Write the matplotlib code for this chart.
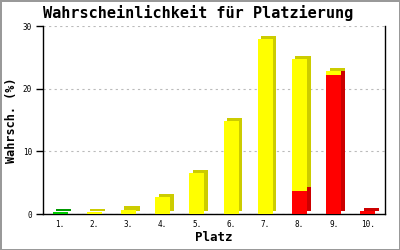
import matplotlib
matplotlib.use("Agg")
import matplotlib.pyplot as plt
import matplotlib.transforms as mtransforms
import numpy as np

# data
places = ["1.", "2.", "3.", "4.", "5.", "6.", "7.", "8.", "9.", "10."]
green = [0.3, 0, 0, 0, 0, 0, 0, 0, 0, 0]
yellow = [0, 0.25, 0.7, 2.7, 6.5, 14.8, 27.9, 21.0, 0.6, 0]
red = [0, 0, 0, 0, 0, 0, 0, 3.7, 22.2, 0.4]

mono = "DejaVu Sans Mono"

fig = plt.figure(figsize=(4, 2.5), dpi=100)
fig.patch.set_edgecolor("#999999")
fig.patch.set_linewidth(2)
ax = fig.add_axes([43 / 400, 36 / 250, 342 / 400, 188 / 250])

x = np.arange(len(places))
w = 0.44
shadow = mtransforms.offset_copy(ax.transData, fig=fig, x=3.5, y=3.5, units="dots")

# stacked segments: red at bottom, then yellow, then green
segs = [(red, "#FF0000", "#CC0000"), (yellow, "#FFFF00", "#CCCC00"), (green, "#00CC00", "#009900")]

# darker copies shifted up-right give the 3d side and top
bottom = np.zeros(len(places))
for vals, front, dark in segs:
    vals = np.array(vals)
    m = vals > 0
    ax.bar(x[m], vals[m], w, bottom=bottom[m], color=dark, linewidth=0,
           transform=shadow, zorder=2)
    bottom = bottom + vals

bottom = np.zeros(len(places))
for vals, front, dark in segs:
    vals = np.array(vals)
    m = vals > 0
    ax.bar(x[m], vals[m], w, bottom=bottom[m], color=front, linewidth=0, zorder=3)
    bottom = bottom + vals

ax.set_xlim(-0.5, 9.5)
ax.set_ylim(0, 30)
ax.set_yticks([0, 10, 20, 30])
ax.yaxis.grid(True, color="#BBBBBB", linestyle=(0, (2, 3)), linewidth=0.8)
ax.set_axisbelow(True)
ax.set_xticks(x)
ax.set_xticklabels(places)
ax.tick_params(axis="x", length=0, pad=4, labelsize=5.5)
ax.tick_params(axis="y", length=5, width=1, pad=3, labelsize=5.5)
for lab in ax.get_xticklabels() + ax.get_yticklabels():
    lab.set_family(mono)

ax.spines["top"].set_visible(False)
for s in ["left", "right", "bottom"]:
    ax.spines[s].set_color("black")
    ax.spines[s].set_linewidth(1)

fig.text(0.495, 0.948, "Wahrscheinlichkeit für Platzierung", ha="center", va="center",
         family=mono, fontweight="bold", fontsize=11)
ax.set_xlabel("Platz", family=mono, fontweight="bold", fontsize=9, labelpad=2)
ax.set_ylabel("Wahrsch. (%)", family=mono, fontweight="bold", fontsize=8.5, labelpad=3)

fig.savefig("out.png", dpi=100)
